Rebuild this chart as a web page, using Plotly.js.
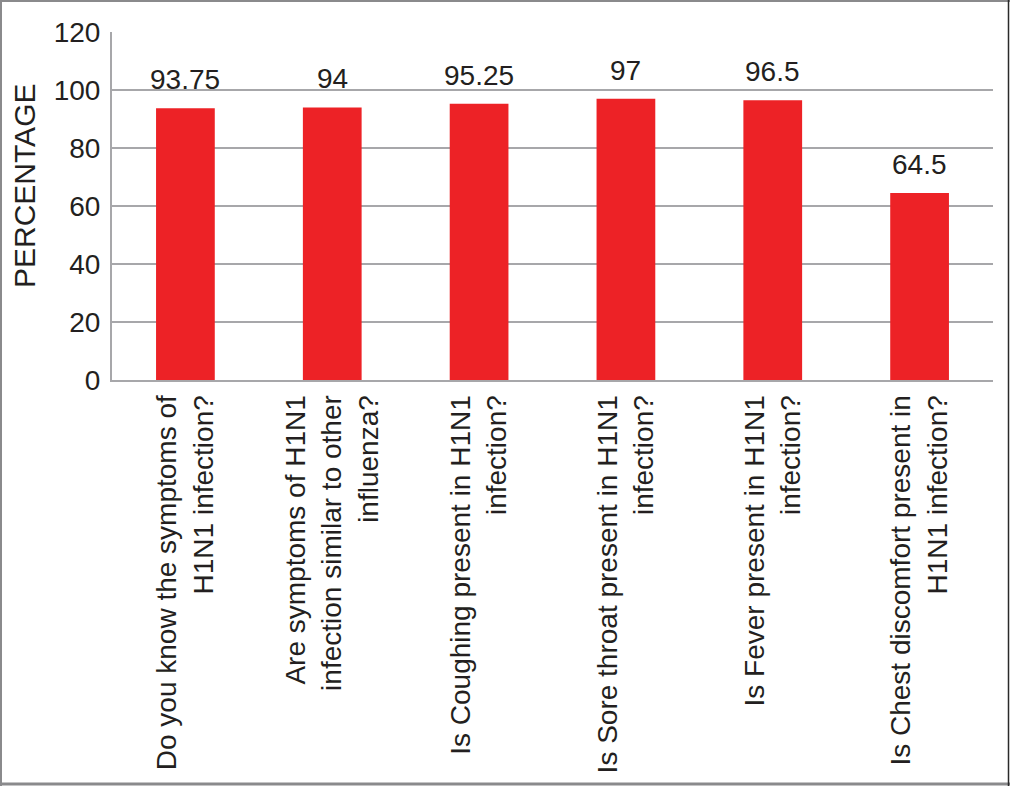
<!DOCTYPE html>
<html>
<head>
<meta charset="utf-8">
<script src="https://cdn.plot.ly/plotly-3.0.1.min.js"></script>
<style>html,body{margin:0;padding:0;background:#fff;}#chart{width:1010px;height:786px;}</style>
</head>
<body>
<div id="chart"></div>
<script>
var categories = [
  "Do you know the symptoms of<br>H1N1 infection?",
  "Are symptoms of H1N1<br>infection similar to other<br>influenza?",
  "Is Coughing present in H1N1<br>infection?",
  "Is Sore throat present in H1N1<br>infection?",
  "Is Fever present in H1N1<br>infection?",
  "Is Chest discomfort present in<br>H1N1 infection?"
];
var percentages = [93.75, 94, 95.25, 97, 96.5, 64.5];
var valueLabels = ["93.75", "94", "95.25", "97", "96.5", "64.5"];
var yTickValues = [0, 20, 40, 60, 80, 100, 120];

var W = 1010, H = 786;
var M = {l: 112, r: 17, t: 32, b: 406};
var pw = W - M.l - M.r, ph = H - M.t - M.b;

var FONT = "Liberation Sans, Arial, sans-serif";
var TXT = "#231f20";

function px2x(p) { return (p - M.l) / pw; }
function px2y(p) { return (H - M.b - p) / ph; }

var trace = {
  type: "bar",
  x: categories,
  y: percentages,
  marker: {color: "#ed2226", line: {width: 0}},
  hoverinfo: "skip"
};

var annotations = categories.map(function (c, i) {
  return {
    x: c, y: percentages[i], xref: "x", yref: "y",
    text: valueLabels[i], showarrow: false,
    yanchor: "bottom", yshift: 11,
    font: {family: FONT, size: 28, color: TXT}
  };
});
annotations.push({
  xref: "paper", yref: "paper",
  x: px2x(24), y: px2y(186),
  text: "PERCENTAGE", textangle: -90, showarrow: false,
  xanchor: "center", yanchor: "middle",
  font: {family: FONT, size: 30, color: TXT}
});

var layout = {
  width: W, height: H,
  margin: M,
  paper_bgcolor: "#fff", plot_bgcolor: "#fff",
  showlegend: false,
  bargap: 0.6,
  font: {family: FONT, color: TXT},
  xaxis: {
    type: "category",
    tickangle: -90,
    tickfont: {family: FONT, size: 28, color: TXT},
    showline: true, linecolor: "#a7a7aa", linewidth: 2,
    showgrid: false, ticks: "", ticklabelstandoff: 2
  },
  yaxis: {
    range: [0, 120],
    tickvals: yTickValues,
    tickfont: {family: FONT, size: 28, color: TXT},
    showgrid: true, gridcolor: "#a7a7aa", gridwidth: 2,
    zeroline: false,
    showline: true, linecolor: "#a7a7aa", linewidth: 2,
    ticks: "", ticklabelstandoff: 4
  },
  annotations: annotations,
  shapes: [
    {type: "line", xref: "paper", yref: "paper", x0: px2x(1), x1: px2x(1), y0: px2y(0), y1: px2y(H),
     line: {color: "#8a8a8c", width: 2}},
    {type: "line", xref: "paper", yref: "paper", x0: px2x(0), x1: px2x(W), y0: px2y(1), y1: px2y(1),
     line: {color: "#8a8a8c", width: 2}},
    {type: "line", xref: "paper", yref: "paper", x0: px2x(0), x1: px2x(W), y0: px2y(H - 2), y1: px2y(H - 2),
     line: {color: "#8a8a8c", width: 3}},
    {type: "line", xref: "paper", yref: "paper", x0: px2x(1008.5), x1: px2x(1008.5), y0: px2y(0), y1: px2y(H),
     line: {color: "#2a2a2a", width: 1.5}}
  ]
};

Plotly.newPlot("chart", [trace], layout, {displayModeBar: false, staticPlot: true});
</script>
</body>
</html>
